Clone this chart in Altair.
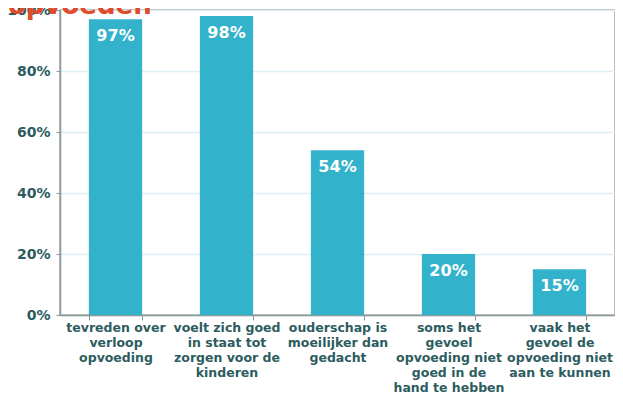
import altair as alt
import pandas as pd

categories = [
    "tevreden over|verloop|opvoeding",
    "voelt zich goed|in staat tot|zorgen voor de|kinderen",
    "ouderschap is|moeilijker dan|gedacht",
    "soms het|gevoel|opvoeding niet|goed in de|hand te hebben",
    "vaak het|gevoel de|opvoeding niet|aan te kunnen",
]
values = [0.97, 0.98, 0.54, 0.20, 0.15]
labels = ["97%", "98%", "54%", "20%", "15%"]
title_text = "opvoeden"

df = pd.DataFrame({"cat": categories, "value": values, "label": labels})

FONT = "DejaVu Sans"
TEAL_DARK = "#2d5c60"
BAR = "#33b2cb"

x_enc = alt.X(
    "cat:N",
    sort=categories,
    title=None,
    scale=alt.Scale(paddingInner=0.52, paddingOuter=0.26),
    axis=alt.Axis(
        labelExpr="split(datum.label, '|')",
        labelAngle=0,
        labelFont=FONT,
        labelFontWeight="bold",
        labelFontSize=12.5,
        labelColor=TEAL_DARK,
        labelLineHeight=15,
        labelPadding=1,
        labelBaseline="top",
        tickBand="extent",
        tickSize=5,
        tickColor="#8a9a9a",
        domainColor="#8a9a9a",
        domainWidth=1.5,
        grid=False,
    ),
)

y_enc = alt.Y(
    "value:Q",
    title=None,
    scale=alt.Scale(domain=[0, 1]),
    axis=alt.Axis(
        format=".0%",
        values=[0, 0.2, 0.4, 0.6, 0.8, 1.0],
        labelFont=FONT,
        labelFontWeight="bold",
        labelFontSize=14,
        labelColor=TEAL_DARK,
        labelPadding=6,
        tickSize=4,
        tickColor="#8a9a9a",
        domainColor="#8a9a9a",
        domainWidth=1.5,
        gridColor="#dceff4",
        gridWidth=1.5,
    ),
)

bars = alt.Chart(df).mark_bar(color=BAR).encode(x=x_enc, y=y_enc)

texts = alt.Chart(df).mark_text(
    font=FONT, fontWeight="bold", fontSize=16, color="white",
    baseline="top", dy=9,
).encode(x=alt.X("cat:N", sort=categories), y="value:Q", text="label:N")

title_df = pd.DataFrame({"t": [title_text]})
title = alt.Chart(title_df).mark_text(
    font=FONT, fontWeight="bold", fontSize=26, color="#e04b2c",
    align="left", baseline="alphabetic",
).encode(x=alt.value(-52), y=alt.value(4), text="t:N")

chart = alt.layer(bars, texts, title).properties(
    width=555,
    height=305,
    autosize=alt.AutoSizeParams(type="none"),
    padding={"left": 52, "top": 2, "right": 0, "bottom": 80},
).configure_view(
    stroke="#a8a8a8", strokeWidth=1.5
)

chart.save("out.html", embed_options={"renderer": "svg", "actions": False})
